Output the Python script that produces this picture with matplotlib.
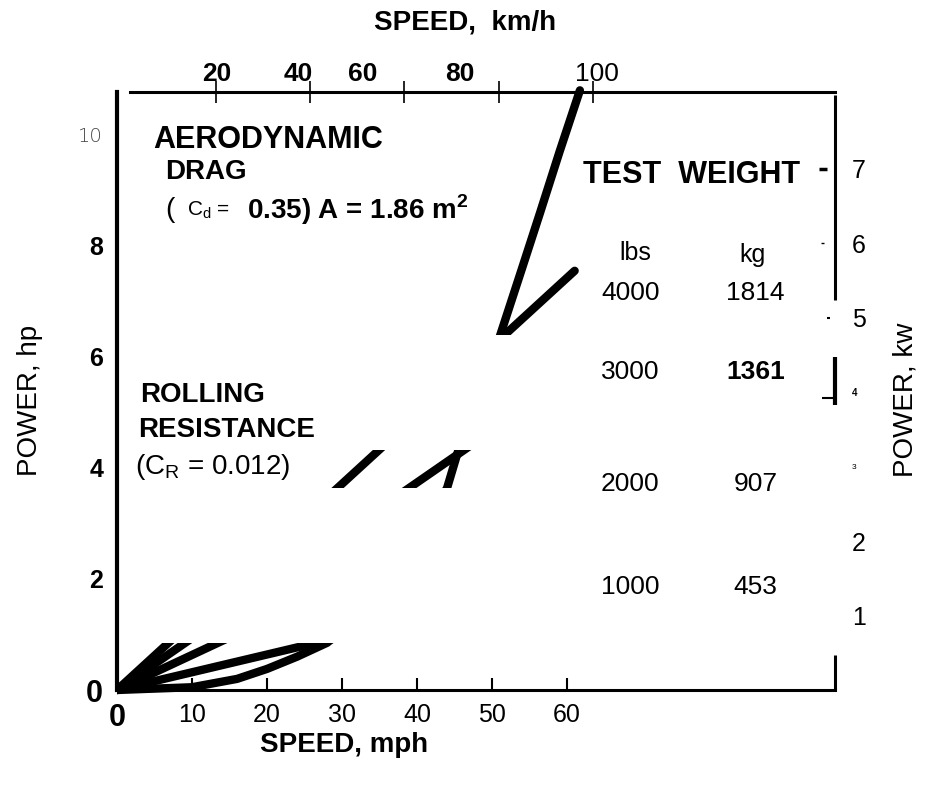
import matplotlib.pyplot as plt
from matplotlib.patches import Rectangle
from matplotlib.transforms import blended_transform_factory

plt.rcParams['font.family'] = ['Liberation Sans', 'DejaVu Sans']

# rolling resistance lines, speed in mph, power in hp
weights_lbs = [4000, 3000, 2000, 1000]
weights_kg = [1814, 1361, 907, 453]
rr_speed = [0, 61]
rr_power = [[0, 7.55], [0, 5.7], [0, 3.85], [0, 1.95]]

# aerodynamic drag curve (Cd = 0.35, A = 1.86 m2)
aero_speed = [0, 10, 16, 20, 24, 28, 32, 36, 40, 44, 45.5, 48, 51.1, 54, 56.4, 59, 61.7]
aero_power = [0, 0.05, 0.2, 0.38, 0.6, 0.85, 1.3, 1.9, 2.7, 3.64, 4.32, 5.2, 6.4, 7.6, 8.6, 9.7, 10.8]

mph_ticks = [0, 10, 20, 30, 40, 50, 60]
hp_ticks = [0, 2, 4, 6, 8, 10]
kmh_ticks = [20, 40, 60, 80, 100]
kw_ticks = [1, 2, 3, 4, 5, 6, 7]

# bits of the old scan where the curves still show (mph0, mph1, hp0, hp1)
bands = [(0, 30, -0.3, 0.85), (28, 48, 3.64, 4.32), (0, 96, 6.4, 11)]

fig = plt.figure(figsize=(9.3, 7.86), dpi=100)
ax = fig.add_axes([117 / 930, 1 - 690 / 786, 718 / 930, 598 / 786])
ax.set_xlim(0, 95.7)
ax.set_ylim(0, 10.77)

for x0, x1, y0, y1 in bands:
    for p in rr_power:
        ln, = ax.plot(rr_speed, p, color='black', lw=6, solid_capstyle='round')
        ln.set_clip_path(Rectangle((x0, y0), x1 - x0, y1 - y0, transform=ax.transData))
    ln, = ax.plot(aero_speed, aero_power, color='black', lw=6, solid_capstyle='round')
    ln.set_clip_path(Rectangle((x0, y0), x1 - x0, y1 - y0, transform=ax.transData))

# frame, the right one is broken in the scan
ax.spines['left'].set_linewidth(3)
ax.spines['bottom'].set_linewidth(2.2)
ax.spines['top'].set_linewidth(2.2)
ax.spines['top'].set_bounds(1.7, 95.7)
ax.spines['right'].set_visible(False)
ax.vlines([95.7, 95.7, 95.7], [7.03, 5.14, 0], [10.72, 6.0, 0.63],
          colors='black', lw=[2.2, 3, 2.2], clip_on=False)
ax.hlines(5.25, 94.0, 95.7, colors='black', lw=1.5, clip_on=False)

# bottom axis, mph
ax.set_xticks(mph_ticks)
ax.tick_params(axis='x', direction='in', length=9, width=1.5, labelsize=18, pad=9)
xl = ax.get_xticklabels()
xl[0].set_fontweight('bold')
xl[0].set_fontsize(22)
xl[0].set_family(['Liberation Sans Narrow', 'Liberation Sans'])

# left axis, hp
ax.set_yticks(hp_ticks)
ax.tick_params(axis='y', length=0, pad=10)
for lab in ax.get_yticklabels():
    lab.set_family(['Liberation Sans Narrow', 'Liberation Sans'])
    lab.set_fontweight('bold')
    lab.set_fontsize(18)
yl = ax.get_yticklabels()
yl[0].set_fontsize(22)
yl[-1].set_family('DejaVu Sans')
yl[-1].set_fontweight('light')
yl[-1].set_fontsize(14)
yl[-1].set_color('#444444')

# top axis, km/h (scan is a little off the exact 1.609)
top = ax.secondary_xaxis('top', functions=(lambda m: (m - 0.63) * 1.592,
                                           lambda k: k / 1.592 + 0.63))
top.set_xticks(kmh_ticks)
top.set_xticklabels([])
top.tick_params(direction='inout', length=16, width=1.2)
top.spines['top'].set_visible(False)
trans = blended_transform_factory(ax.transData, ax.transAxes)
top_label_pos = [13.3, 24.1, 32.8, 45.7, 64.0]
for k, xp in zip(kmh_ticks, top_label_pos):
    ax.text(xp, 1.03, str(k), transform=trans, ha='center', va='center', fontsize=19,
            fontweight='normal' if k == 100 else 'bold')

# right axis, kW
right = ax.secondary_yaxis('right', functions=(lambda h: h * 0.7457, lambda k: k / 0.7457))
right.set_yticks(kw_ticks)
right.tick_params(length=0, pad=12, labelsize=18)
right.spines['right'].set_visible(False)
rl = right.get_yticklabels()
rl[2].set_fontsize(6)
rl[3].set_fontsize(7)
rl[3].set_fontweight('bold')
# leftover tick stubs at 5, 6, 7 kW
ax.hlines([k / 0.7457 for k in [5, 6, 7]], [94.6, 93.8, 93.6], [95.0, 94.3, 94.6],
          colors='black', lw=[1.5, 1, 2.5], clip_on=False)

fig.text(465 / 930, 1 - 22 / 786, 'SPEED,  km/h', ha='center', va='center', fontsize=20, fontweight='bold')
fig.text(344 / 930, 1 - 745 / 786, 'SPEED, mph', ha='center', va='center', fontsize=20, fontweight='bold')
fig.text(30 / 930, 1 - 400 / 786, 'POWER, hp', ha='center', va='center', rotation=90, fontsize=20)
fig.text(905 / 930, 1 - 400 / 786, 'POWER, kw', ha='center', va='center', rotation=90, fontsize=20)

# labels inside the plot
ax.text(4.8, 9.91, 'AERODYNAMIC', ha='left', va='center', fontsize=22, fontweight='bold')
ax.text(6.4, 9.33, 'DRAG', ha='left', va='center', fontsize=20, fontweight='bold')
ax.text(6.4, 8.65, '(', ha='left', va='center', fontsize=20)
ax.text(9.3, 8.65, r'C$_\mathregular{d}$ =', ha='left', va='center', fontsize=15)
ax.text(17.3, 8.65, r'0.35) A = 1.86 m$^{\mathregular{2}}$', ha='left', va='center',
        fontsize=20, fontweight='bold')
ax.text(3.1, 5.32, 'ROLLING', ha='left', va='center', fontsize=20, fontweight='bold')
ax.text(2.8, 4.68, 'RESISTANCE', ha='left', va='center', fontsize=20, fontweight='bold')
ax.text(2.4, 4.02, r'(C$_\mathregular{R}$ = 0.012)', ha='left', va='center', fontsize=20)

ax.text(62.1, 9.28, 'TEST  WEIGHT', ha='left', va='center', fontsize=22, fontweight='bold')
ax.text(69.1, 7.87, 'lbs', ha='center', va='center', fontsize=18)
ax.text(84.7, 7.84, 'kg', ha='center', va='center', fontsize=18)
row_y = [7.15, 5.73, 3.71, 1.86]
for lb, kg, yy in zip(weights_lbs, weights_kg, row_y):
    ax.text(68.4, yy, str(lb), ha='center', va='center', fontsize=19)
    ax.text(85.1, yy, str(kg), ha='center', va='center', fontsize=19,
            fontweight='bold' if kg == 1361 else 'normal')

plt.savefig('out.png', dpi=100)
